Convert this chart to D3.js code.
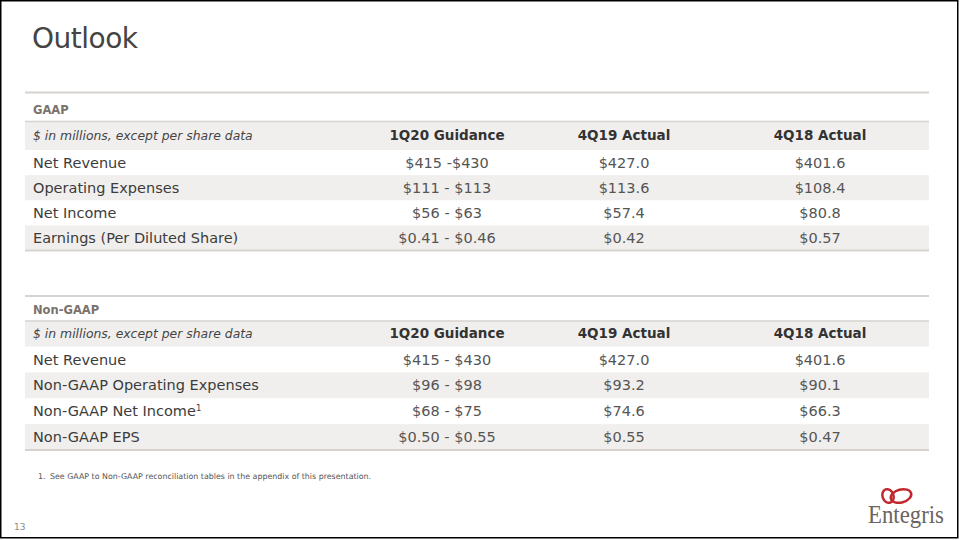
<!DOCTYPE html>
<html>
<head>
<meta charset="utf-8">
<script src="https://cdn.jsdelivr.net/npm/d3@7"></script>
<style>
	body { margin: 0; background: #fff; }
	svg { display: block; font-family: "DejaVu Sans", sans-serif; }
</style>
</head>
<body>
<svg id="slide" width="960" height="540"></svg>
<script>

// table contents
var columns = ['1Q20 Guidance', '4Q19 Actual', '4Q18 Actual'];

var gaapRows = ['Net Revenue', 'Operating Expenses', 'Net Income', 'Earnings (Per Diluted Share)'];
var gaapGuidance = ['$415 -$430', '$111 - $113', '$56 - $63', '$0.41 - $0.46'];
var gaap4Q19 = ['$427.0', '$113.6', '$57.4', '$0.42'];
var gaap4Q18 = ['$401.6', '$108.4', '$80.8', '$0.57'];

var nonGaapRows = ['Net Revenue', 'Non-GAAP Operating Expenses', 'Non-GAAP Net Income', 'Non-GAAP EPS'];
var nonGaapNotes = ['', '', '1', ''];
var nonGaapGuidance = ['$415 - $430', '$96 - $98', '$68 - $75', '$0.50 - $0.55'];
var nonGaap4Q19 = ['$427.0', '$93.2', '$74.6', '$0.55'];
var nonGaap4Q18 = ['$401.6', '$90.1', '$66.3', '$0.47'];

var footnote = 'See GAAP to Non-GAAP reconciliation tables in the appendix of this presentation.';

var svg = d3.select('#slide');

var left = 25, right = 929, textLeft = 33;

// column centres
var xCol = d3.scaleOrdinal()
	.domain(columns)
	.range([447, 624, 820]);

// slide frame
svg.append('rect')
	.attr('x', 0.75).attr('y', 0.75)
	.attr('width', 957).attr('height', 537)
	.attr('fill', 'none')
	.attr('stroke', '#000')
	.attr('stroke-width', 1.5);

svg.append('text')
	.attr('x', 32).attr('y', 48)
	.attr('font-size', 28)
	.attr('textLength', 106)
	.attr('fill', '#444')
	.text('Outlook');

function drawTable(cfg) {
	let g = svg.append('g');

	let yRow = d3.scaleBand()
		.domain(d3.range(cfg.rows.length))
		.range([cfg.headerBottom, cfg.bottom]);

	// shaded header band and alternating rows
	g.append('rect')
		.attr('x', left).attr('y', cfg.headerTop)
		.attr('width', right - left).attr('height', cfg.headerBottom - cfg.headerTop)
		.attr('fill', '#f1efed');

	g.selectAll('.band')
		.data(cfg.rows.map((r, i) => i).filter(i => i % 2 === 1))
		.enter().append('rect')
		.attr('class', 'band')
		.attr('x', left)
		.attr('y', i => yRow(i))
		.attr('width', right - left)
		.attr('height', yRow.bandwidth())
		.attr('fill', '#f1efed');

	// rules
	[[cfg.top, 2], [cfg.headerTop, 1.5], [cfg.bottom, 2]].forEach(function(l) {
		g.append('line')
			.attr('x1', left).attr('x2', right)
			.attr('y1', l[0]).attr('y2', l[0])
			.attr('stroke', '#d6d3d0')
			.attr('stroke-width', l[1]);
	});

	g.append('text')
		.attr('x', textLeft).attr('y', cfg.labelY)
		.attr('font-size', 11.5)
		.attr('font-weight', 'bold')
		.attr('fill', '#7b726c')
		.text(cfg.title);

	let headerMid = (cfg.headerTop + cfg.headerBottom) / 2;

	g.append('text')
		.attr('x', textLeft).attr('y', headerMid)
		.attr('dy', '0.35em')
		.attr('font-size', 12.4)
		.attr('font-style', 'italic')
		.attr('fill', '#444')
		.text('$ in millions, except per share data');

	g.selectAll('.colhead')
		.data(columns)
		.enter().append('text')
		.attr('class', 'colhead')
		.attr('x', d => xCol(d))
		.attr('y', headerMid)
		.attr('dy', '0.35em')
		.attr('text-anchor', 'middle')
		.attr('font-size', 13.5)
		.attr('font-weight', 'bold')
		.attr('fill', '#333')
		.text(d => d);

	let labels = g.selectAll('.rowlabel')
		.data(cfg.rows)
		.enter().append('text')
		.attr('class', 'rowlabel')
		.attr('x', textLeft)
		.attr('y', (d, i) => yRow(i) + yRow.bandwidth() / 2)
		.attr('dy', '0.35em')
		.attr('font-size', 14.5)
		.attr('fill', '#3c3c3c')
		.text(d => d);

	if (cfg.notes) {
		labels.append('tspan')
			.attr('font-size', 8.5)
			.attr('dy', '-0.6em')
			.text((d, i) => cfg.notes[i]);
	}

	[cfg.guidance, cfg.q419, cfg.q418].forEach(function(vals, c) {
		g.selectAll('.val' + c)
			.data(vals)
			.enter().append('text')
			.attr('class', 'val' + c)
			.attr('x', xCol(columns[c]))
			.attr('y', (d, i) => yRow(i) + yRow.bandwidth() / 2)
			.attr('dy', '0.35em')
			.attr('text-anchor', 'middle')
			.attr('font-size', 14.5)
			.attr('fill', '#555')
			.text(d => d);
	});
}

drawTable({
	title: 'GAAP', rows: gaapRows,
	guidance: gaapGuidance, q419: gaap4Q19, q418: gaap4Q18,
	top: 92.5, labelY: 114, headerTop: 121.5, headerBottom: 150, bottom: 250.5
});

drawTable({
	title: 'Non-GAAP', rows: nonGaapRows, notes: nonGaapNotes,
	guidance: nonGaapGuidance, q419: nonGaap4Q19, q418: nonGaap4Q18,
	top: 296, labelY: 314, headerTop: 321, headerBottom: 346.5, bottom: 450
});

// footnote
svg.append('text')
	.attr('x', 38).attr('y', 479)
	.attr('font-size', 7.9)
	.attr('fill', '#555')
	.text('1.');
svg.append('text')
	.attr('x', 50).attr('y', 479)
	.attr('font-size', 7.9)
	.attr('fill', '#555')
	.text(footnote);

// page number
svg.append('text')
	.attr('x', 14).attr('y', 530)
	.attr('font-size', 9)
	.attr('fill', '#8a8a8a')
	.text('13');

// logo
var logo = svg.append('g');
logo.append('ellipse')
	.attr('cx', 888).attr('cy', 496)
	.attr('rx', 5.5).attr('ry', 7)
	.attr('transform', 'rotate(-20 888 496)')
	.attr('fill', 'none').attr('stroke', '#c1272d').attr('stroke-width', 2.5);
logo.append('ellipse')
	.attr('cx', 901).attr('cy', 496)
	.attr('rx', 10.5).attr('ry', 6.5)
	.attr('transform', 'rotate(-15 901 496)')
	.attr('fill', 'none').attr('stroke', '#c1272d').attr('stroke-width', 2.5);
logo.append('text')
	.attr('x', 868).attr('y', 523)
	.attr('font-family', '"Liberation Serif", serif')
	.attr('font-size', 25)
	.attr('textLength', 76)
	.attr('lengthAdjust', 'spacingAndGlyphs')
	.attr('fill', '#6b6460')
	.text('Entegris');

</script>
</body>
</html>
